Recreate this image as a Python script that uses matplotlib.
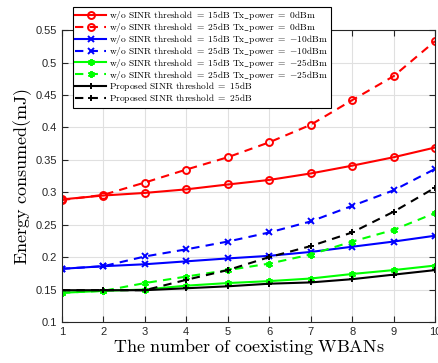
import matplotlib
matplotlib.use("Agg")
import matplotlib.pyplot as plt
import numpy as np

plt.rcParams['mathtext.fontset'] = 'cm'

x = np.arange(1, 11)
red_15 = [0.289, 0.295, 0.299, 0.3045, 0.312, 0.319, 0.329, 0.341, 0.354, 0.369]
red_25 = [0.288, 0.296, 0.315, 0.335, 0.354, 0.377, 0.404, 0.442, 0.479, 0.533]
blue_15 = [0.182, 0.186, 0.189, 0.1935, 0.198, 0.202, 0.208, 0.216, 0.224, 0.233]
blue_25 = [0.182, 0.186, 0.201, 0.212, 0.224, 0.238, 0.255, 0.279, 0.303, 0.336]
green_15 = [0.145, 0.148, 0.150, 0.156, 0.160, 0.163, 0.167, 0.174, 0.180, 0.187]
green_25 = [0.145, 0.148, 0.160, 0.170, 0.180, 0.190, 0.204, 0.224, 0.242, 0.268]
black_15 = [0.149, 0.149, 0.149, 0.152, 0.155, 0.159, 0.161, 0.166, 0.173, 0.180]
black_25 = [0.149, 0.149, 0.149, 0.165, 0.180, 0.200, 0.217, 0.238, 0.270, 0.307]

labels = [
    r'$\mathrm{w/o\ SINR\ threshold\ =\ 15dB\ Tx\_power\ =\ 0dBm}$',
    r'$\mathrm{w/o\ SINR\ threshold\ =\ 25dB\ Tx\_power\ =\ 0dBm}$',
    r'$\mathrm{w/o\ SINR\ threshold\ =\ 15dB\ Tx\_power\ =\ {-}10dBm}$',
    r'$\mathrm{w/o\ SINR\ threshold\ =\ 25dB\ Tx\_power\ =\ {-}10dBm}$',
    r'$\mathrm{w/o\ SINR\ threshold\ =\ 15dB\ Tx\_power\ =\ {-}25dBm}$',
    r'$\mathrm{w/o\ SINR\ threshold\ =\ 25dB\ Tx\_power\ =\ {-}25dBm}$',
    r'$\mathrm{Proposed\ SINR\ threshold\ =\ 15dB}$',
    r'$\mathrm{Proposed\ SINR\ threshold\ =\ 25dB}$',
]

fig = plt.figure(figsize=(4.39, 3.63), dpi=100)
ax = fig.add_axes([0.141, 0.113, 0.850, 0.804])

series = [
    (red_15, 'red', '-', 'o'),
    (red_25, 'red', '--', 'o'),
    (blue_15, 'blue', '-', 'x'),
    (blue_25, 'blue', '--', 'x'),
    (green_15, '#00ff00', '-', (6, 2, 0)),
    (green_25, '#00ff00', '--', (6, 2, 0)),
    (black_15, 'black', '-', '+'),
    (black_25, 'black', '--', '+'),
]
for (y, c, ls, m), lab in zip(series, labels):
    kw = dict(color=c, linestyle=ls, marker=m, markersize=5, lw=1.5,
              markeredgewidth=1.4, markerfacecolor='none', label=lab)
    line, = ax.plot(x, y, **kw)
    if ls == '--':
        line.set_dashes((4, 3))

ax.set_xlim(1, 10)
ax.set_ylim(0.1, 0.55)
ax.set_xticks(np.arange(1, 11))
ax.set_yticks(np.arange(0.1, 0.551, 0.05))
ax.set_yticklabels(['0.1', '0.15', '0.2', '0.25', '0.3', '0.35', '0.4', '0.45', '0.5', '0.55'])
ax.grid(True, color='#e0e0e0', lw=0.8)
ax.set_axisbelow(True)
ax.tick_params(direction='in', top=True, right=True, labelsize=8, colors='#262626',
               length=4, width=0.8)
for lab in ax.get_xticklabels() + ax.get_yticklabels():
    lab.set_fontfamily('Liberation Sans')
for s in ax.spines.values():
    s.set_color('#262626')
    s.set_linewidth(0.8)

ax.set_xlabel(r'$\mathrm{The\ number\ of\ coexisting\ WBANs}$', fontsize=13, labelpad=0)
ax.set_ylabel(r'$\mathrm{Energy\ consumed(mJ)}$', fontsize=13, labelpad=1)

leg = ax.legend(loc='upper left', bbox_to_anchor=(0.166, 0.981),
                bbox_transform=fig.transFigure, fontsize=6.8, frameon=True,
                fancybox=False, edgecolor='black', framealpha=1,
                borderpad=0.25, labelspacing=-0.12, handlelength=3.3,
                handletextpad=0.3, borderaxespad=0)
leg.get_frame().set_linewidth(0.8)

fig.savefig('out.png', dpi=100)
